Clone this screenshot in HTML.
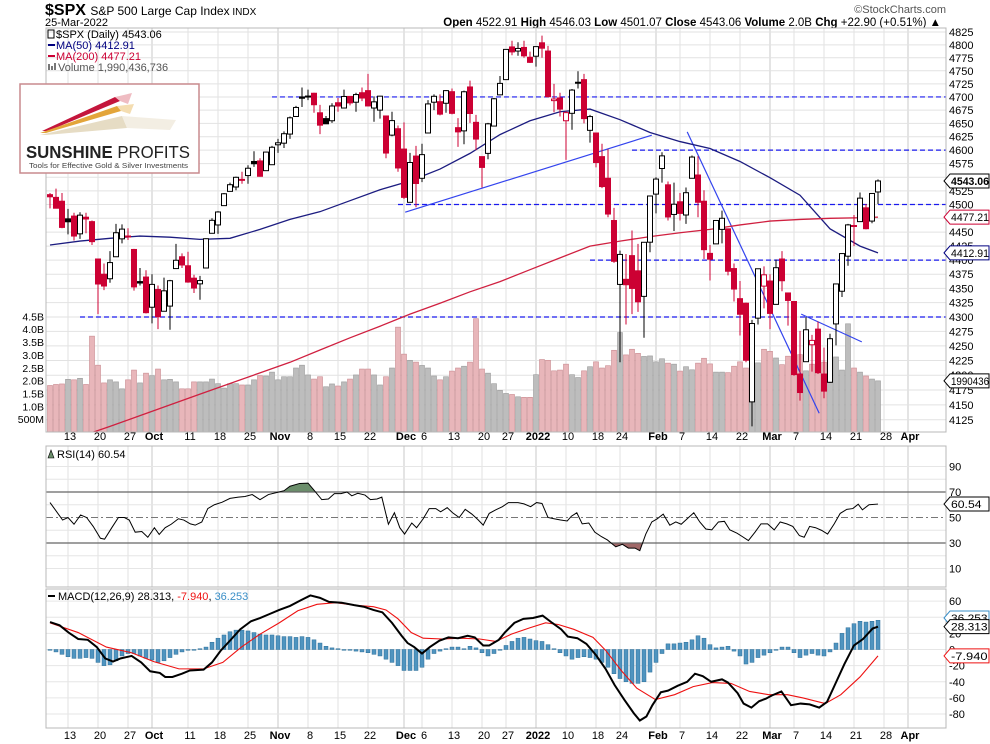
<!DOCTYPE html>
<html><head><meta charset="utf-8"><title>$SPX Daily</title>
<style>
html,body{margin:0;padding:0;background:#fff;}
svg{display:block;font-family:"Liberation Sans",Arial,sans-serif;}
</style></head>
<body>
<svg id="chart" width="990" height="744" viewBox="0 0 990 744" xmlns="http://www.w3.org/2000/svg">
  <rect x="0" y="0" width="990" height="744" fill="#fff"/>
  <text x="45" y="15" font-size="16" font-weight="bold" fill="#000">$SPX <tspan font-size="12" font-weight="normal">S&amp;P 500 Large Cap Index</tspan><tspan font-size="10" font-weight="normal"> INDX</tspan></text>
  <text x="45" y="26" font-size="11" fill="#000">25-Mar-2022</text>
  <text x="946" y="13" font-size="11" fill="#555" text-anchor="end">©StockCharts.com</text>
  <text x="941" y="26" font-size="11.5" fill="#000" text-anchor="end"><tspan font-weight="bold">Open</tspan> 4522.91 <tspan font-weight="bold">High</tspan> 4546.03 <tspan font-weight="bold">Low</tspan> 4501.07 <tspan font-weight="bold">Close</tspan> 4543.06 <tspan font-weight="bold">Volume</tspan> 2.0B <tspan font-weight="bold">Chg</tspan> +22.90 (+0.51%) ▲</text>

  <defs>
    <clipPath id="mainClip"><rect x="46" y="28" width="900" height="404"/></clipPath>
    <clipPath id="above70"><rect x="46" y="446" width="900" height="46"/></clipPath>
    <clipPath id="below30"><rect x="46" y="543" width="900" height="44"/></clipPath>
  </defs>

  <g id="grid"></g>
  <g id="volume" clip-path="url(#mainClip)"></g>
  <g id="annot" clip-path="url(#mainClip)"></g>
  <g id="mas" clip-path="url(#mainClip)"></g>
  <g id="candles" clip-path="url(#mainClip)"></g>
  <g id="rsi"></g>
  <g id="macd"></g>
  <g id="frames"></g>
  <g id="axes"></g>

  <g font-size="11">
    <rect x="48" y="30" width="6" height="8" fill="none" stroke="#000" stroke-width="1"/>
    <text x="56" y="38" fill="#000">$SPX (Daily) 4543.06</text>
    <line x1="48" y1="45" x2="55" y2="45" stroke="#000080" stroke-width="2"/>
    <text x="56" y="49" fill="#000080">MA(50) 4412.91</text>
    <line x1="48" y1="56" x2="55" y2="56" stroke="#cc0033" stroke-width="2"/>
    <text x="56" y="60" fill="#cc0033">MA(200) 4477.21</text>
    <rect x="48" y="64" width="2" height="6" fill="#777"/><rect x="51" y="66" width="2" height="4" fill="#777"/><rect x="54" y="63" width="2" height="7" fill="#777"/>
    <text x="58" y="71" fill="#555">Volume 1,990,436,736</text>
  </g>

  <g>
    <rect x="20" y="84" width="179" height="89" fill="#fff" stroke="#c98a8e" stroke-width="1.5"/>
    <polygon points="42,131 115,97 120,101 48,131" fill="#c4163c"/>
    <polygon points="115,97 132,93 128,104 120,101" fill="#e8a0a8" opacity="0.7"/>
    <polygon points="40,133 117,106 121,111 46,133" fill="#e3a53a"/>
    <polygon points="117,106 134,104 130,114 121,111" fill="#f0cf90" opacity="0.7"/>
    <polygon points="40,135 122,116 127,128 46,135" fill="#e6dcc4"/>
    <polygon points="122,116 176,120 170,130 127,128" fill="#f0eadc" opacity="0.8"/>
    <text x="26" y="158" font-size="17.5" fill="#222" textLength="164" lengthAdjust="spacingAndGlyphs"><tspan font-weight="bold">SUNSHINE</tspan> PROFITS</text>
    <text x="29" y="168" font-size="7.5" fill="#444" textLength="159" lengthAdjust="spacingAndGlyphs">Tools for Effective Gold &amp; Silver Investments</text>
  </g>
</svg>

<script>
// ---------- DATA ----------
var opens = [4518,4513,4506,4474,4479,4447,4477,4469,4402,4375,4367,4406,4438,4442,4419,4362,4370,
4317,4348,4310,4319,4385,4406,4390,4368,4358,4386,4448,4463,4498,4524,4532,4546,4553,4579,4580,4562,4573,
4610,4613,4630,4663,4700,4701,4707,4670,4659,4655,4689,4679,4701,4690,4708,4712,4679,4675,4664,4628,4640,
4602,4504,4589,4548,4632,4690,4691,4688,4710,4642,4636,4719,4652,4588,4594,4645,4704,4733,4796,4788,4795,4776,
4778,4804,4788,4693,4698,4655,4669,4728,4733,4637,4632,4588,4548,4471,4357,4366,4408,4381,4336,4432,
4519,4566,4536,4482,4505,4481,4548,4554,4506,4412,4429,4455,4456,4385,4332,4324,4155,4298,4354,
4363,4322,4402,4342,4327,4202,4223,4252,4279,4202,4188,4288,4345,4407,4462,4469,4494,4470,4522.91];
var highs = [4521,4529,4521,4492,4485,4486,4485,4471,4402,4394,4416,4465,4464,4457,4420,4386,4382,
4375,4355,4369,4365,4429,4412,4415,4374,4372,4439,4475,4488,4521,4540,4551,4560,4572,4598,4585,4597,4608,
4621,4635,4663,4683,4718,4714,4708,4685,4664,4688,4698,4714,4701,4708,4718,4744,4701,4702,4664,4672,4646,
4652,4595,4608,4612,4694,4705,4705,4713,4716,4660,4712,4731,4666,4588,4651,4698,4740,4791,4808,4805,4808,4787,
4796,4818,4798,4725,4708,4673,4715,4749,4744,4666,4632,4612,4602,4494,4417,4411,4453,4429,4432,4516,
4550,4596,4542,4540,4521,4531,4590,4589,4526,4427,4472,4489,4456,4394,4363,4325,4295,4385,4389,
4375,4401,4416,4342,4327,4276,4300,4269,4292,4247,4271,4358,4412,4465,4481,4522,4501,4520,4546.03];
var lows = [4493,4493,4457,4446,4435,4438,4448,4427,4305,4347,4360,4406,4430,4436,4346,4355,4306,
4289,4279,4310,4278,4385,4386,4360,4342,4330,4386,4448,4447,4498,4525,4526,4538,4538,4569,4551,4562,4573,
4595,4604,4621,4662,4681,4694,4670,4630,4649,4651,4672,4679,4684,4672,4692,4682,4653,4659,4585,4626,4560,
4510,4504,4495,4541,4632,4675,4665,4670,4667,4606,4611,4651,4600,4531,4583,4645,4703,4733,4780,4779,4775,4765,
4758,4775,4699,4671,4663,4582,4638,4716,4650,4614,4568,4530,4477,4395,4222,4287,4305,4309,4264,4414,
4484,4540,4471,4452,4471,4465,4548,4477,4402,4364,4429,4430,4373,4327,4268,4222,4114,4287,4315,
4279,4322,4345,4285,4199,4157,4223,4206,4202,4161,4187,4251,4335,4390,4425,4469,4455,4466,4501.07];
var closes = [4514.07,4493.28,4458.58,4468.73,4443.05,4480.70,4473.75,4432.99,4357.73,4354.19,4395.64,4448.98,4455.48,4443.11,4352.63,4359.46,4307.54,
4357.04,4300.46,4345.72,4363.55,4399.76,4391.34,4361.19,4350.65,4363.80,4438.26,4471.37,4486.46,4519.63,4536.19,4549.78,4544.90,4566.48,4574.79,4551.68,4596.42,4605.38,
4613.67,4630.65,4660.57,4680.06,4697.53,4701.70,4685.25,4646.71,4649.27,4682.85,4682.80,4700.90,4688.67,4704.54,4697.96,4682.94,4690.70,4701.46,4594.62,4655.27,4567.00,
4513.04,4577.10,4538.43,4591.67,4686.75,4701.21,4667.45,4712.02,4668.97,4634.09,4709.85,4668.67,4620.64,4568.02,4649.23,4696.56,4725.79,4791.19,4786.35,4793.06,4778.73,4766.18,
4796.56,4793.54,4700.58,4696.05,4677.03,4670.29,4713.07,4726.35,4659.03,4662.85,4577.11,4532.76,4482.73,4397.94,4410.13,4356.45,4349.93,4326.51,4431.85,4515.55,
4546.54,4589.38,4477.44,4500.53,4483.87,4521.54,4587.18,4504.08,4418.64,4401.67,4471.07,4475.01,4380.26,4348.87,4304.76,4225.50,4288.70,4384.65,4373.94,
4306.26,4386.54,4363.49,4328.87,4201.09,4170.70,4277.88,4259.52,4204.31,4173.11,4262.45,4357.86,4411.67,4463.12,4461.18,4511.61,4456.24,4520.16,4543.06];
var volumes = [1.81,1.85,1.87,2.05,2.03,2.09,1.85,3.73,2.60,1.91,2.03,1.95,1.68,2.03,2.41,1.91,2.29,2.19,2.45,2.03,2.05,1.95,1.68,1.68,1.95,1.95,1.95,2.06,1.88,1.71,
1.88,1.88,1.83,1.83,2.03,2.19,2.18,2.33,2.03,2.15,2.15,2.49,2.60,2.22,2.06,2.15,1.76,1.87,1.79,1.95,2.06,2.22,2.45,2.45,2.22,1.83,2.15,2.49,4.08,3.03,
2.79,2.72,2.59,2.49,2.18,2.03,2.15,2.37,2.49,2.56,2.72,4.41,
2.45,2.29,1.88,1.62,1.50,1.46,1.37,1.35,1.35,2.23,2.82,2.79,2.38,2.41,2.64,2.23,2.12,2.38,2.54,2.73,2.49,2.58,3.18,3.87,3.00,3.22,3.06,2.94,2.96,2.73,
2.85,2.68,2.64,2.37,2.54,2.42,2.68,2.87,2.65,2.33,2.33,2.31,2.56,2.73,2.49,3.56,2.69,3.22,3.14,2.88,2.62,2.95,3.65,3.01,2.38,2.64,3.03,2.72,2.26,2.92,
2.41,4.21,2.49,2.33,2.18,2.06,1.99];
// moving averages sampled every 5 bars (last sample = final bar)
var ma50 = [4427,4434,4439,4443,4441,4437,4439,4455,4473,4487,4507,4527,4543,4565,4594,4629,4655,4672,4677,4657,4633,4616,4603,4579,4549,4517,4456,4425,4412.91];
var ma200 = [4097,4114,4132,4150,4168,4186,4204,4222,4243,4264,4284,4305,4324,4344,4362,4383,4404,4425,4434,4442,4449,4455,4463,4470,4473,4475,4476,4477.21];
var ma200Start = 5;
// RSI readings and the trading-day index (x category) where each was read
var rsiValues = [61.7,58.5,48,50,44.7,52,50,43,33.7,33,42,50,50,48,38.5,39,34.5,42,36.7,42,
44.7,49,48,45,44,46.5,57,60,62,65,66,66.5,68,64,68,69.7,71,74.5,76.7,77,
72,64,64.5,68.7,68.7,70,67,69,67.6,64,64.5,66,44.7,53.7,42,37,45.7,42,49,57,
57,54.5,57.7,53.7,50,56.4,52.7,48.4,44,53.2,56,58.5,61.7,61.7,60.7,58.5,61.7,61,50,49,
48,47.3,51,53.7,45,45.7,38.5,35,32.4,27,29,26,26,24,37,46.5,49,52.7,44,46.5,
44.7,49,53.7,46.5,41,40.3,46.5,47,40.3,37.7,35,31.9,38.5,45,45,40.3,46.5,45,43,35.8,
34.5,43,42,39.9,37,45,53.2,56.4,57,60.4,56,60,60.54];
var rsiBars = [0,0.5,2.1,3,4,5.1,6.1,7.2,8.4,9.1,10.3,11.4,12.4,13.2,14.2,15.3,16.3,17.4,18.2,19.2,
20.2,21.4,22.3,23.4,24.2,25.3,26.3,27.4,28.7,30,31.4,32.5,33.7,35,36.4,37.9,39,40,41.6,43,
43.9,45.3,46.4,47.4,48.5,49.5,50.3,51.3,52.5,53.4,54.5,55.3,56.4,57.4,58.3,59.1,60.3,61.1,62.2,63.2,
64.3,65.1,66.2,67.1,68.2,69.2,70.3,71.3,72.2,73.2,74.3,75.4,76.4,78,79,80.1,81.1,82,83,84,
85.1,86.2,86.9,87.8,88.7,89.8,90.8,91.9,92.9,94.3,95.4,96.4,97.5,98.3,99.3,100.3,101.2,102.2,103.3,104.3,
105.2,106.2,107.3,108.3,109.3,110.3,111.4,112.4,113.3,114.5,115.4,116.4,117.5,118.5,119.6,120.7,121.7,122.8,123.8,124.9,
125.7,126.6,127.6,128.6,129.6,130.7,131.7,132.8,133.8,134.7,135.4,136.5,138];
var macdLine = [34,30,21,13,12,3,-11,-15,-11,-8,-16,-27,-29,-34,-34,-30,-26,-25,-16,-1,11,25,35,39,44,49,54,61,67,64,
59,58,55,53,49,46,33,17,8,3,-5,3,11,15,14,17,15,5,5,12,21,33,38,39,42,33,25,16,14,7,
-7,-24,-44,-62,-79,-88,-83,-69,-53,-51,-45,-40,-30,-33,-40,-37,-41,-54,-67,-72,-64,-61,-57,-52,-69,-67,-68,-72,-65,-44,-18,5,13,26,28.313];
var macdBars = [0,1.6,3.1,4.7,6.3,7.8,9.2,10.5,11.8,13.6,15.2,16.7,18.3,19.2,20.4,22,23.3,25.6,27,28.5,30,31.7,33.5,35,36.6,38.2,40,41.8,43.4,45,
46.5,48.6,50.7,52.3,53.9,55.4,57,58.6,59.6,60.7,62,63.3,64.9,66.4,68,69.6,70.8,72.2,73.2,74.8,75.8,77.4,78.9,80.5,82.1,83.7,85.2,86.3,87.9,89.4,
91,92.6,94.1,95.7,97.3,98.3,99.4,100.4,101.8,103,104.6,106.2,107.5,108.8,110.2,112,113,114.6,115.6,116.9,118.2,119.3,120.3,121.9,123.5,125.1,126.6,128.2,129.5,130.8,132.4,134,135.5,137.1,138];
var signalLine = [33,21,3,-4,-15,-24,-24,-16,3,19,33,48,56,58,55,53,49,38,21,14,13,14,13,10,19,27,33,31,25,15,-1,-26,-48,-62,-56,-46,-41,-42,-52,-56,-56,-60,-67,-56,-34,-7.94];
var signalBars = [0,4.7,9.4,13.6,17.3,21.5,25.6,28.8,31.9,35,38.2,41.3,44.5,47.6,50.7,53.9,56,58,60.2,62.2,65.4,68.5,71.6,74.3,76.9,80,82.6,84.7,87.3,90.5,92.6,95.2,97.8,100.9,104.1,107.2,110.4,113.5,116.6,119.8,122.9,125.5,129.2,131.8,135,138];
var histValues = [-1,-3,-6,-9,-11,-11,-10,-11,-16,-20,-19,-14,-8,-5,-5,-8,-11,-13,-16,-14,-10,-6,-3,-1,0,1,
3,9,14,18,22,24,24,23,21,19,18,18,17,16,16,15,16,15,12,8,
4,2,1,0,-1,-2,-3,-4,-6,-8,-12,-16,-20,
-26,-26,-26,-22,-12,
-5,-2,1,3,3,1,4,2,-4,-8,-5,0,5,10,14,15,13,
11,10,6,1,-4,-8,-12,-10,-9,
-10,-12,-16,-22,-30,-36,-40,-42,-42,-40,-28,-16,-5,7,7,
8,9,12,17,14,6,2,3,4,-2,-8,
-18,-16,-10,-7,-4,0,3,3,-4,-10,-7,-5,-7,-8,-3,
8,20,27,32,35,34,35,36.253];
var priceTicks = [4125,4150,4175,4200,4225,4250,4275,4300,4325,4350,4375,4400,4425,4450,4475,4500,4525,4550,4575,4600,4625,4650,4675,4700,4725,4750,4775,4800,4825];
var volTicks = [0.5,1.0,1.5,2.0,2.5,3.0,3.5,4.0,4.5];
var volTickLabels = ["500M","1.0B","1.5B","2.0B","2.5B","3.0B","3.5B","4.0B","4.5B"];
var rsiTicks = [10,30,50,70,90];
var macdTicks = [-80,-60,-40,-20,0,20,40,60];
var holidays = ["2021-11-25","2021-12-24","2022-01-17","2022-02-21","2022-04-15"];
var xLabelDates = ["2021-09-13","2021-09-20","2021-09-27","2021-10-01","2021-10-11","2021-10-18","2021-10-25","2021-11-01","2021-11-08","2021-11-15","2021-11-22","2021-12-01","2021-12-06","2021-12-13","2021-12-20","2021-12-27","2022-01-03","2022-01-10","2022-01-18","2022-01-24","2022-02-01","2022-02-07","2022-02-14","2022-02-22","2022-03-01","2022-03-07","2022-03-14","2022-03-21","2022-03-28","2022-04-01"];
var xLabelTexts = ["13","20","27","Oct","11","18","25","Nov","8","15","22","Dec","6","13","20","27","2022","10","18","24","Feb","7","14","22","Mar","7","14","21","28","Apr"];
var supportLevels = [4700,4600,4500,4400,4300];
var supportStartBars = [37,97,58,90,5];

// ---------- SCALES ----------
var NS = "http://www.w3.org/2000/svg";
function xB(i){ return 50 + 6*i; }
function yP(p){ return 317 - 2474*Math.log(p/4300); }
function yV(v){ return 432 - v*25.7; }
function yR(v){ return 492 + (70 - v)*1.275; }
function yM(v){ return 649.5 - v*0.807; }
function el(tag, attrs, parent){
  var e = document.createElementNS(NS, tag);
  for (var k in attrs) e.setAttribute(k, attrs[k]);
  parent.appendChild(e); return e;
}
var N = closes.length;

// trading dates
var dates = [];
var d = new Date(Date.UTC(2021,8,8));
while (dates.length < N + 8) {
  var wd = d.getUTCDay();
  var s = d.toISOString().slice(0,10);
  if (wd !== 0 && wd !== 6 && holidays.indexOf(s) < 0) dates.push(s);
  d = new Date(d.getTime() + 86400000);
}
var xLabels = xLabelDates.map(function(ds, k){
  return {i: dates.indexOf(ds), t: xLabelTexts[k], m: isNaN(+xLabelTexts[k]) || xLabelTexts[k] === "2022"};
});

// ---------- GRID ----------
var grid = document.getElementById('grid');
var panels = [[28,432],[446,587],[589,728]];
xLabels.forEach(function(l){
  var x = xB(l.i);
  if (x > 945) return;
  panels.forEach(function(p){
    var g = el('line', {x1:x, y1:p[0], x2:x, y2:p[1], stroke: l.m ? '#c8c8c8' : '#e2e2e2', 'stroke-width':1}, grid);
    
    
  });
});
priceTicks.forEach(function(p){
  var y = yP(p);
  var g = el('line', {x1:46, y1:y, x2:946, y2:y, stroke:'#e2e2e2', 'stroke-width':1}, grid);
  
  
});
for (var r = 10; r <= 90; r += 10) {
  if (r === 30 || r === 50 || r === 70) continue;
  var gr = el('line', {x1:46, y1:yR(r), x2:946, y2:yR(r), stroke:'#e6e6e6'}, grid);
  
  
}
macdTicks.forEach(function(m){
  var gm = el('line', {x1:46, y1:yM(m), x2:946, y2:yM(m), stroke:'#e6e6e6'}, grid);
  
  
});

// ---------- VOLUME ----------
var vg = document.getElementById('volume');
volumes.forEach(function(v, i){
  var down = i > 0 ? closes[i] < closes[i-1] : true;
  var b = el('rect', {x:xB(i)-2.5, y:yV(v), width:5, height:432 - yV(v),
    fill: down ? '#e8b6ba' : '#bdbdbd', stroke: down ? '#c98a90' : '#9a9a9a', 'stroke-width':0.6}, vg);
  
  
});

// ---------- ANNOTATIONS ----------
var ag = document.getElementById('annot');
supportLevels.forEach(function(p, k){
  var l = el('line', {x1:xB(supportStartBars[k]), y1:yP(p), x2:946, y2:yP(p), stroke:'#1a1aee', 'stroke-width':1.2, 'stroke-dasharray':'5,3'}, ag);
  
  
});
var trends = [[59.2,4486,100.3,4628],[106.2,4634,128.2,4136],[125.2,4305,135.3,4257]];
trends.forEach(function(t){
  var l = el('line', {x1:xB(t[0]), y1:yP(t[1]), x2:xB(t[2]), y2:yP(t[3]), stroke:'#3344ee', 'stroke-width':1.2}, ag);
  
  
});

// ---------- MOVING AVERAGES ----------
var mg = document.getElementById('mas');
var p50 = ma50.map(function(v, k){ var idx = Math.min(k*5, N-1); return xB(idx)+','+yP(v); }).join(' ');
var l50 = el('polyline', {points:p50, fill:'none', stroke:'#1c1c80', 'stroke-width':1.3}, mg);


var p200 = ma200.map(function(v, k){ var idx = Math.min(ma200Start + k*5, N-1); return xB(idx)+','+yP(v); }).join(' ');
var l200 = el('polyline', {points:p200, fill:'none', stroke:'#d02040', 'stroke-width':1.3}, mg);



// ---------- CANDLES ----------
var cg = document.getElementById('candles');
closes.forEach(function(c, i){
  var o = opens[i], h = highs[i], lo = lows[i];
  var down = i > 0 ? c < closes[i-1] : true;
  var col = down ? '#cc0033' : '#000';
  var x = xB(i);
  var w = el('line', {x1:x, y1:yP(h), x2:x, y2:yP(lo), stroke:col, 'stroke-width':1}, cg);
  
  
  var top = yP(Math.max(o,c)), bot = yP(Math.min(o,c));
  var hollow = c > o;
  var b = el('rect', {x:x-2.5, y:top, width:5, height:Math.max(1, bot-top), fill: hollow ? '#fff' : col, stroke:col, 'stroke-width':1}, cg);
  
  
});

// ---------- RSI ----------
var rg = document.getElementById('rsi');
var rpts = rsiValues.map(function(v,k){ return [xB(rsiBars[k]), yR(v)]; });
function areaTo(level){
  return 'M'+rpts[0][0]+','+yR(level)+' '+rpts.map(function(p){return 'L'+p[0]+','+p[1];}).join(' ')+' L'+rpts[rpts.length-1][0]+','+yR(level)+'Z';
}
var a1 = el('path', {d:areaTo(70), fill:'#6b8e6b', stroke:'none', 'clip-path':'url(#above70)'}, rg);


var a2 = el('path', {d:areaTo(30), fill:'#a06868', stroke:'none', 'clip-path':'url(#below30)'}, rg);


[70,30].forEach(function(v){
  var l = el('line', {x1:46, y1:yR(v), x2:946, y2:yR(v), stroke:'#666', 'stroke-width':1.2}, rg);
  
  
});
var l50r = el('line', {x1:46, y1:yR(50), x2:946, y2:yR(50), stroke:'#777', 'stroke-width':1, 'stroke-dasharray':'7,3,2,3'}, rg);


var rl = el('polyline', {points:rpts.map(function(p){return p.join(',');}).join(' '), fill:'none', stroke:'#000', 'stroke-width':1}, rg);


var rlab = el('text', {x:57, y:458, 'font-size':11, fill:'#000'}, rg);
rlab.textContent = 'RSI(14) 60.54';


var ric = el('path', {d:'M48,458 L51,450 L54,458 Z', fill:'#6b8e6b', stroke:'#000', 'stroke-width':0.6}, rg);



// ---------- MACD ----------
var mcg = document.getElementById('macd');
histValues.forEach(function(v, i){
  var y0 = yM(0), y1 = yM(v);
  var b = el('rect', {x:xB(i)-2, y:Math.min(y0,y1), width:4, height:Math.max(0.8, Math.abs(y1-y0)), fill:'#4f94bf', stroke:'#2c6f99', 'stroke-width':0.5}, mcg);
  
  
});
var sp = signalLine.map(function(v,k){ return xB(signalBars[k])+','+yM(v); }).join(' ');
var sl = el('polyline', {points:sp, fill:'none', stroke:'#ee1111', 'stroke-width':1.1}, mcg);


var mp = macdLine.map(function(v,k){ return xB(macdBars[k])+','+yM(v); }).join(' ');
var ml = el('polyline', {points:mp, fill:'none', stroke:'#000', 'stroke-width':2}, mcg);


var mlab = el('text', {x:58, y:600, 'font-size':11, fill:'#000'}, mcg);
mlab.innerHTML = 'MACD(12,26,9) 28.313, <tspan fill="#ee1111">-7.940</tspan>, <tspan fill="#3a8fc8">36.253</tspan>';


var mic = el('line', {x1:48, y1:596, x2:55, y2:596, stroke:'#000', 'stroke-width':2}, mcg);



// ---------- FRAMES ----------
var fg = document.getElementById('frames');
panels.forEach(function(p){
  var f = el('rect', {x:46, y:p[0], width:900, height:p[1]-p[0], fill:'none', stroke:'#b8b8b8', 'stroke-width':1}, fg);
  
  
});

// ---------- AXES ----------
var ax = document.getElementById('axes');
priceTicks.forEach(function(p){
  var t = el('text', {x:949, y:yP(p)+4, 'font-size':11, fill:'#000'}, ax);
  t.textContent = p;
  
  
});
volTicks.forEach(function(v, k){
  var t = el('text', {x:44, y:yV(v)+4, 'font-size':10.5, fill:'#000', 'text-anchor':'end'}, ax);
  t.textContent = volTickLabels[k];
  
  
});
rsiTicks.forEach(function(v){
  var t = el('text', {x:949, y:yR(v)+4, 'font-size':11, fill:'#000'}, ax);
  t.textContent = v;
  
  
});
macdTicks.forEach(function(v){
  var t = el('text', {x:949, y:yM(v)+4, 'font-size':11, fill:'#000'}, ax);
  t.textContent = v;
  
  
});
[440, 739].forEach(function(yy){
  xLabels.forEach(function(l){
    var x = xB(l.i) + 2;
    var t = el('text', {x:x, y:yy, 'font-size':11, fill:'#000', 'text-anchor':'middle', 'font-weight': l.m ? 'bold' : 'normal'}, ax);
    t.textContent = l.t;
    
    
  });
});
function tag(y, text, color, name, bold){
  var w = 989 - 951;
  var p = el('path', {d:'M944,'+y+' L950,'+(y-7)+' L989,'+(y-7)+' L989,'+(y+7)+' L950,'+(y+7)+' Z', fill:'#fff', stroke:color, 'stroke-width':1}, ax);
  
  
  var t = el('text', {x:951, y:y+4, 'font-size':11, fill:'#000', 'font-weight': bold ? 'bold':'normal', textLength: Math.min(w, text.length*6.1), lengthAdjust:'spacingAndGlyphs'}, ax);
  t.textContent = text;
  
  
}
tag(yP(closes[N-1]), closes[N-1].toFixed(2), '#000', 'last-price', true);
tag(yP(ma200[ma200.length-1]), ma200[ma200.length-1].toFixed(2), '#cc0033', 'ma200', false);
tag(yP(ma50[ma50.length-1]), ma50[ma50.length-1].toFixed(2), '#000080', 'ma50', false);
tag(yV(volumes[N-1]), '1990436', '#000', 'volume', false);
tag(yR(rsiValues[rsiValues.length-1]), '60.54', '#000', 'rsi', false);
tag(618, '36.253', '#3a8fc8', 'macd-hist', false);
tag(yM(macdLine[macdLine.length-1]), '28.313', '#000', 'macd', false);
tag(yM(signalLine[signalLine.length-1]), '-7.940', '#ee1111', 'macd-signal', false);
</script>
</body></html>
